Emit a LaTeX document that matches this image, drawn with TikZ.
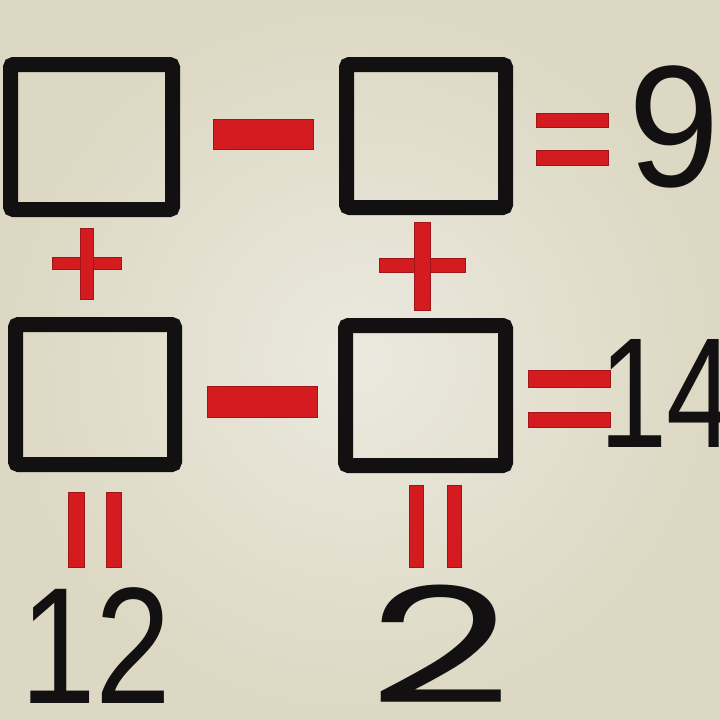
\documentclass[tikz,border=0pt]{standalone}
\usepackage{graphicx}
\usepackage{fontspec}
\setmainfont{Liberation Sans}
\newfontfamily\geofont{Poppins}
\definecolor{bgin}{HTML}{EBE9DF}
\definecolor{bgout}{HTML}{DCD8C3}
\definecolor{puzred}{HTML}{D41C20}
\definecolor{inkc}{HTML}{121010}
\begin{document}
\begin{tikzpicture}[x=1pt,y=-1pt,
  cell/.style={draw=inkc, line width=15pt, rounded corners=3pt, inner sep=0pt, outer sep=0pt},
  bar/.style={fill=puzred, draw=puzred!75!black, line width=0.6pt, inner sep=0pt, outer sep=0pt, rectangle},
  num/.style={text=inkc, inner sep=0pt, anchor=base, text depth=0pt}]
\useasboundingbox (0,0) rectangle (720,720);
\shade[inner color=bgin, outer color=bgout] (0,0) rectangle (720,720);
% boxes
\node[cell, minimum width=162pt, minimum height=145pt] (tl) at (91.5,137) {};
\node[cell, minimum width=159pt, minimum height=143pt] (tr) at (426,136) {};
\node[cell, minimum width=159pt, minimum height=140pt] (bl) at (95,394.5) {};
\node[cell, minimum width=160pt, minimum height=140pt] (br) at (425.5,395.5) {};
% minus signs
\node[bar, minimum width=100pt, minimum height=30pt] (mtop) at (263,134) {};
\node[bar, minimum width=110pt, minimum height=31pt] (mbot) at (262,401.5) {};
% equals (horizontal)
\node[bar, minimum width=72pt, minimum height=14pt] (eta) at (572,120) {};
\node[bar, minimum width=72pt, minimum height=15pt] (etb) at (572,157.5) {};
\node[bar, minimum width=82pt, minimum height=17pt] (eba) at (569,378.5) {};
\node[bar, minimum width=82pt, minimum height=15pt] (ebb) at (569,419.5) {};
% equals (vertical)
\node[bar, minimum width=16pt, minimum height=75pt] (vla) at (76,529.5) {};
\node[bar, minimum width=15pt, minimum height=75pt] (vlb) at (113.5,529.5) {};
\node[bar, minimum width=14pt, minimum height=82pt] (vra) at (416,526) {};
\node[bar, minimum width=14pt, minimum height=82pt] (vrb) at (454,526) {};
% plus signs
\node[bar, minimum width=69pt, minimum height=12pt] (plh) at (86.5,263) {};
\node[bar, minimum width=13pt, minimum height=71pt] (plv) at (86.5,263.5) {};
\node[bar, minimum width=86pt, minimum height=14pt] (prh) at (422,265) {};
\node[bar, minimum width=16pt, minimum height=88pt] (prv) at (422,266) {};
% numbers
\node[num, font=\fontsize{173}{173}\selectfont] (n9) at (674.5,186) {\scalebox{0.95}[1]{9}};
\node[num, anchor=base west, font=\fontsize{157}{157}\selectfont] (n14) at (599.5,447) {\scalebox{0.78}[1]{1\kern-2pt 4}};
\node[num, font=\fontsize{166}{166}\selectfont] (n12) at (96,703) {\scalebox{0.82}[1]{12}};
\node[num, font=\geofont\fontsize{161}{161}\selectfont] (n2) at (440,703) {\scalebox{1.55}[1]{2}};
\end{tikzpicture}
\end{document}
